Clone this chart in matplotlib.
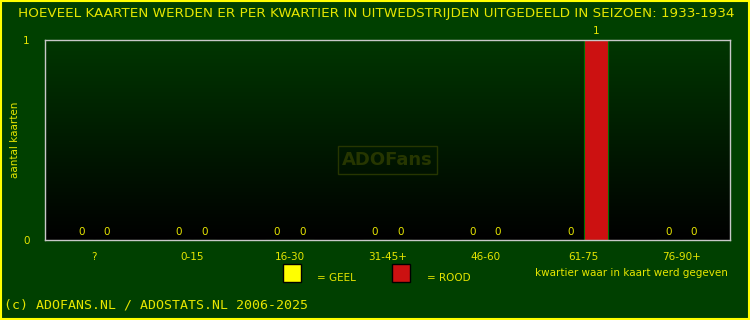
import numpy as np
import matplotlib
matplotlib.use('Agg')
import matplotlib.pyplot as plt
from matplotlib.patches import Rectangle
from matplotlib.colors import LinearSegmentedColormap

categories = ['?', '0-15', '16-30', '31-45+', '46-60', '61-75', '76-90+']
geel = [0, 0, 0, 0, 0, 0, 0]
rood = [0, 0, 0, 0, 0, 1, 0]
seizoen = '1933-1934'

BG = '#004000'
TXT = '#e6e600'
YELLOW = '#ffff00'
RED = '#cc1111'

fig = plt.figure(figsize=(7.5, 3.2), dpi=100, facecolor=BG)
# yellow outer border
fig.patches.append(Rectangle((0.001, 0.002), 0.997, 0.995, transform=fig.transFigure,
                             fill=False, ec='#ffff00', lw=1.5))

ax = fig.add_axes([45 / 750, 1 - 240 / 320, 685 / 750, 200 / 320])
ax.set_facecolor('black')

n = len(categories)
ax.set_xlim(0, n)
ax.set_ylim(0, 1)

# gradient background: dark green top -> black bottom
grad = np.linspace(0, 1, 256).reshape(-1, 1)
cmap = LinearSegmentedColormap.from_list('g', ['#000000', '#003600'])
ax.imshow(grad, extent=(0, n, 0, 1), origin='lower', cmap=cmap, aspect='auto', zorder=0)

x = np.arange(n) + 0.5
w = 0.245
off = 0.13
ax.bar(x - off, geel, width=w, color=YELLOW, edgecolor='#007000', lw=0.8, zorder=2)
ax.bar(x + off, rood, width=w, color=RED, edgecolor='#007000', lw=0.8, zorder=2)

for xs, vals in ((x - off, geel), (x + off, rood)):
    for xi, v in zip(xs, vals):
        if v > 0:
            ax.annotate(str(v), (xi, v), xytext=(0, 3), textcoords='offset points',
                        ha='center', va='bottom', color=TXT, fontsize=7.5)
        else:
            ax.annotate(str(v), (xi, 0), xytext=(0, 2), textcoords='offset points',
                        ha='center', va='bottom', color=TXT, fontsize=7.5, zorder=3)

for s in ax.spines.values():
    s.set_color('#c8c8c8')
    s.set_linewidth(1)

ax.set_xticks(x)
ax.set_xticklabels(categories)
ax.set_yticks([0, 1])
ax.tick_params(length=0, colors=TXT, labelsize=7.5)
ax.tick_params(axis='x', pad=9)
ax.tick_params(axis='y', pad=11)
for lbl in ax.get_xticklabels() + ax.get_yticklabels():
    lbl.set_color(TXT)

ax.set_ylabel('aantal kaarten', color=TXT, fontsize=7.5)
ax.yaxis.set_label_coords(-0.036, 0.5)

# watermark
ax.text(0.5, 0.4, 'ADOFans', transform=ax.transAxes, ha='center', va='center',
        fontsize=13, fontweight='bold', color='#263600', zorder=1,
        bbox=dict(boxstyle='square,pad=0.25', fc='none', ec='#263600', lw=1))

fig.text(18 / 750, 1 - 14 / 320,
         'HOEVEEL KAARTEN WERDEN ER PER KWARTIER IN UITWEDSTRIJDEN UITGEDEELD IN SEIZOEN: ' + seizoen,
         color=TXT, fontsize=9.7, ha='left', va='center')

# legend
fig.patches.append(Rectangle((283 / 750, 1 - 282 / 320), 18 / 750, 18 / 320,
                             transform=fig.transFigure, fc=YELLOW, ec='black', lw=1))
fig.text(317 / 750, 1 - 278 / 320, '= GEEL', color=TXT, fontsize=7.5, va='center')
fig.patches.append(Rectangle((392 / 750, 1 - 282 / 320), 18 / 750, 18 / 320,
                             transform=fig.transFigure, fc=RED, ec='black', lw=1))
fig.text(427 / 750, 1 - 278 / 320, '= ROOD', color=TXT, fontsize=7.5, va='center')
fig.text(728 / 750, 1 - 273 / 320, 'kwartier waar in kaart werd gegeven', color=TXT,
         fontsize=7.5, ha='right', va='center')

fig.text(4 / 750, 1 - 305 / 320, '(c) ADOFANS.NL / ADOSTATS.NL 2006-2025', color=TXT,
         fontsize=9.5, family='DejaVu Sans Mono', va='center')

fig.savefig('out.png', dpi=100, facecolor=BG)
